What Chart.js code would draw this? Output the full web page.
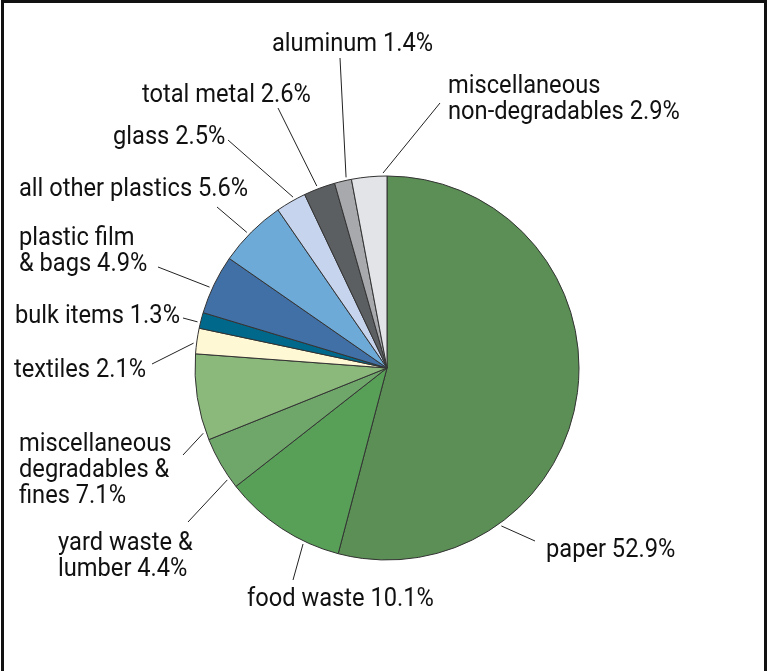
<!DOCTYPE html>
<html>
<head>
<meta charset="utf-8">
<script src="https://cdn.jsdelivr.net/npm/chart.js@4"></script>
<style>
  html, body { margin: 0; padding: 0; background: #fff; }
  #wrap { position: relative; width: 768px; height: 671px; overflow: hidden; }
  #frame {
    position: absolute; left: 1px; top: 0; width: 760px; height: 680px;
    border: 3px solid #111;
  }
  #pie { position: absolute; left: 0; top: 0; }
</style>
</head>
<body>
<div id="wrap">
  <div id="frame"></div>
  <canvas id="pie" width="768" height="671"></canvas>
</div>
<script>
// municipal waste composition, share of total by weight
const categories = [
  'paper', 'food waste', 'yard waste & lumber', 'miscellaneous degradables & fines',
  'textiles', 'bulk items', 'plastic film & bags', 'all other plastics',
  'glass', 'total metal', 'aluminum', 'miscellaneous non-degradables',
];
const shares = [52.9, 10.1, 4.4, 7.1, 2.1, 1.3, 4.9, 5.6, 2.5, 2.6, 1.4, 2.9];
const sliceColors = [
  '#5b8f55', '#58a058', '#6fa66a', '#8bb87b',
  '#fff8d4', '#00688b', '#4170a6', '#6eaad8',
  '#c6d4ee', '#5c5f62', '#a7a9ac', '#e3e4e8',
];

// label text lines (value appended to the last one), text anchor and leader line
// start; `t` is where along the slice the leader touches the rim
const labelLayout = [
  { lines: ['paper'], x: 546, y: 557, from: [535, 541], t: 0.74 },
  { lines: ['food waste'], x: 247, y: 606, from: [293, 580], t: 0.29 },
  { lines: ['yard waste &', 'lumber'], x: 58, y: 550, from: [188, 522], t: 0.19 },
  { lines: ['miscellaneous', 'degradables &', 'fines'], x: 19, y: 451, from: [183, 455], t: 0.09 },
  { lines: ['textiles'], x: 14, y: 377, from: [152, 364], t: 0.4 },
  { lines: ['bulk items'], x: 15, y: 323, from: [183, 318], t: 0.36 },
  { lines: ['plastic film', '& bags'], x: 19, y: 245, from: [158, 267], t: 0.43 },
  { lines: ['all other plastics'], x: 19, y: 196, from: [217, 207], t: 0.45 },
  { lines: ['glass'], x: 113, y: 144, from: [228, 140], t: 0.63 },
  { lines: ['total metal'], x: 142, y: 102, from: [278, 108], t: 0.45 },
  { lines: ['aluminum'], x: 272, y: 51, from: [340, 58], t: 0.72 },
  { lines: ['miscellaneous', 'non-degradables'], x: 448, y: 93, from: [440, 103], t: 0.89 },
];

const LINE_HEIGHT = 26;
const LABEL_FONT = "26px Roboto, 'Liberation Sans', sans-serif";
const LABEL_SQUEEZE = 0.91; // condensed look for the callout text

const calloutPlugin = {
  id: 'callouts',
  afterDraw(chart) {
    const ctx = chart.ctx;
    const arcs = chart.getDatasetMeta(0).data;
    ctx.save();
    ctx.strokeStyle = '#222';
    ctx.lineWidth = 1;
    labelLayout.forEach((lab, i) => {
      const arc = arcs[i];
      const a = arc.startAngle + lab.t * (arc.endAngle - arc.startAngle);
      const r = arc.outerRadius + 3;
      ctx.beginPath();
      ctx.moveTo(lab.from[0], lab.from[1]);
      ctx.lineTo(arc.x + Math.cos(a) * r, arc.y + Math.sin(a) * r);
      ctx.stroke();
    });
    ctx.fillStyle = '#111';
    ctx.font = LABEL_FONT;
    ctx.textAlign = 'left';
    ctx.textBaseline = 'alphabetic';
    labelLayout.forEach((lab, i) => {
      const lines = lab.lines.slice();
      lines[lines.length - 1] += ' ' + shares[i].toFixed(1) + '%';
      lines.forEach((txt, k) => {
        ctx.save();
        ctx.translate(lab.x, lab.y + k * LINE_HEIGHT);
        ctx.scale(LABEL_SQUEEZE, 1);
        ctx.fillText(txt, 0, 0);
        ctx.restore();
      });
    });
    ctx.restore();
  },
};

new Chart(document.getElementById('pie'), {
  type: 'pie',
  data: {
    labels: categories,
    datasets: [{
      data: shares,
      backgroundColor: sliceColors,
      borderColor: '#333',
      borderWidth: 1,
      hoverOffset: 0,
    }],
  },
  options: {
    responsive: false,
    animation: false,
    radius: 192,
    layout: { padding: { left: 100, right: 94, top: 100, bottom: 35 } },
    plugins: { legend: { display: false }, tooltip: { enabled: false } },
  },
  plugins: [calloutPlugin],
});
</script>
</body>
</html>
